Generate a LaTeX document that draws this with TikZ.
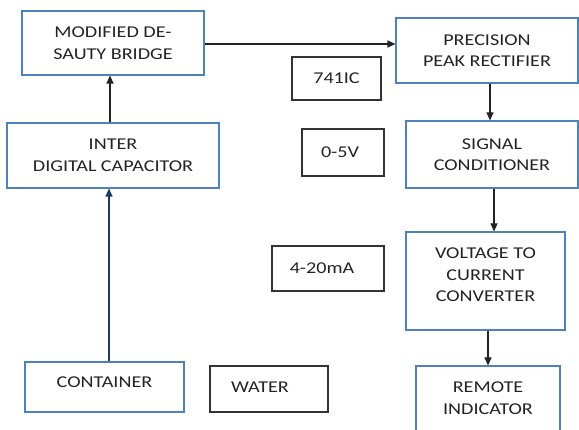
\documentclass[tikz,border=0pt]{standalone}
\usepackage{fontspec}
\setmainfont{Carlito}[FakeStretch=1.22]
\usetikzlibrary{arrows.meta,positioning}
\definecolor{boxblue}{RGB}{79,129,189}
\definecolor{navy}{RGB}{31,56,100}
\definecolor{ink}{RGB}{35,35,35}

\begin{document}
\begin{tikzpicture}[
  x=1pt, y=-1pt,
  font=\fontsize{16.5}{21.5}\selectfont,
  blk/.style={draw=boxblue, line width=1.1pt, align=center, inner sep=2pt, text=ink},
  tag/.style={draw=black!80, line width=1.1pt, align=center, inner sep=2pt, text=ink},
  arr/.style={-{Triangle[length=8pt,width=7pt]}, line width=1.1pt, draw=ink},
  uparr/.style={-{Triangle[length=8pt,width=7pt]}, line width=1.1pt, draw=navy}
]
\useasboundingbox (0,0) rectangle (579,430);

% ── left column ──────────────────────────────────────────────────────────
\node[blk, minimum width=182pt, minimum height=64pt] (bridge) at (113,43)
  {MODIFIED DE-\\SAUTY BRIDGE};
\node[blk, minimum width=212pt, minimum height=65pt] (idc) at (113,155.5)
  {INTER\\DIGITAL CAPACITOR};
\node[blk, minimum width=159pt, minimum height=50pt,
  label={[text=ink, yshift=5pt]center:CONTAINER}] (cont) at (104.5,387) {};
\node[tag, minimum width=118pt, minimum height=46pt,
  label={[text=ink, xshift=-9pt, yshift=2pt]center:WATER}] (water) at (269,389) {};

% ── right column ─────────────────────────────────────────────────────────
\node[blk, minimum width=182pt, minimum height=65pt] (ppr) at (487,50.5)
  {PRECISION\\PEAK RECTIFIER};
\node[blk, minimum width=172pt, minimum height=67pt] (sc) at (492,154.5)
  {SIGNAL\\CONDITIONER};
\node[blk, minimum width=159pt, minimum height=98pt,
  label={[text=ink, align=center, yshift=6pt]center:VOLTAGE TO\\CURRENT\\CONVERTER}]
  (vcc) at (485.5,281) {};
\node[blk, minimum width=144pt, minimum height=70pt,
  label={[text=ink, align=center, yshift=3pt]center:REMOTE\\INDICATOR}]
  (ri) at (488,401) {};

% ── signal levels ────────────────────────────────────────────────────────
\node[tag, minimum width=89pt, minimum height=43pt] (ic) at (336.5,78.5) {741IC};
\node[tag, minimum width=82pt, minimum height=47pt,
  label={[text=ink, xshift=-3pt]center:0-5V}] (volt) at (343,152.5) {};
\node[tag, minimum width=112pt, minimum height=45pt,
  label={[text=ink, xshift=-6pt]center:4-20mA}] (amp) at (328,268.5) {};

% ── connectors ───────────────────────────────────────────────────────────
\draw[uparr] (cont.north -| 109,0) -- (idc.south -| 109,0);
\draw[arr] (idc.north -| 110,0) -- (bridge.south -| 110,0);
\draw[arr] (bridge.east |- 0,44) -- (ppr.west |- 0,44);
\draw[arr] (ppr.south -| 490,0) -- (sc.north -| 490,0);
\draw[arr] (sc.south -| 494,0) -- (vcc.north -| 494,0);
\draw[arr] (vcc.south -| 488,0) -- (ri.north -| 488,0);

\end{tikzpicture}
\end{document}
